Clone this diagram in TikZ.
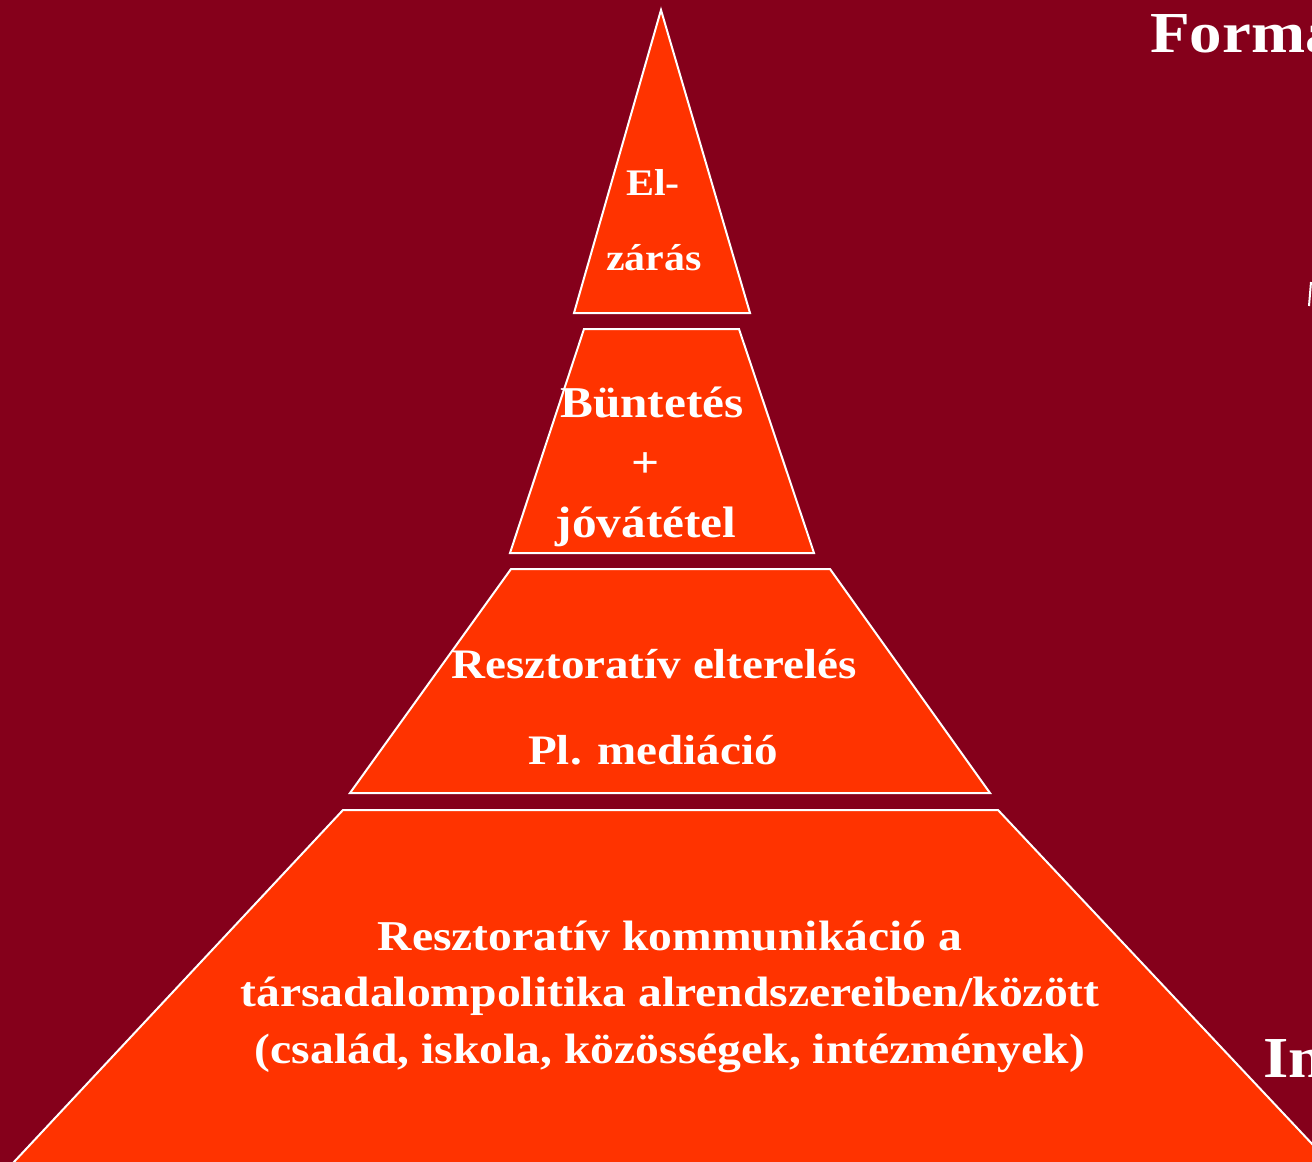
\documentclass[tikz,border=0pt]{standalone}
\usepackage{fontspec}
\setmainfont{Liberation Serif}[FakeStretch=1.12]
\definecolor{bgred}{HTML}{85001B}
\definecolor{tier}{HTML}{FF3300}
\tikzset{
  tierbox/.style={fill=tier, draw=white, line width=2pt, line join=miter},
  lbl/.style={text=white, font=\bfseries, anchor=base, inner sep=0pt},
}
\begin{document}
\begin{tikzpicture}[x=1pt,y=-1pt]
\useasboundingbox (0,0) rectangle (1312,1162);
\fill[bgred] (0,0) rectangle (1312,1162);
\begin{scope}
\clip (0,0) rectangle (1312,1162);
\draw[tierbox] (661,10) -- (750,313) -- (574,313) -- cycle;
\draw[tierbox] (584,329) -- (739,329) -- (814,553) -- (510,553) -- cycle;
\draw[tierbox] (511,569) -- (830,569) -- (990,793) -- (350,793) -- cycle;
\draw[tierbox] (343,810) -- (998,810) -- (1330,1163) -- (13,1163) -- cycle;
\draw[white, line width=2pt] (1311,282) -- (1309,306);
\node[lbl, font=\bfseries\fontsize{58}{70}\selectfont, anchor=base west] (forma) at (1150,52) {Forma};
\node[lbl, font=\bfseries\fontsize{58}{70}\selectfont, anchor=base west] (in) at (1263,1077) {In};
\end{scope}
\node[lbl, font=\bfseries\fontsize{37.5}{44}\selectfont] (el) at (653,195) {El-};
\node[lbl, font=\bfseries\fontsize{37.5}{44}\selectfont] (zaras) at (654,270) {zárás};
\node[lbl, font=\bfseries\fontsize{44}{52}\selectfont] (buntetes) at (652,417) {Büntetés};
\node[lbl, font=\bfseries\fontsize{44}{52}\selectfont] (plus) at (646,477) {+};
\node[lbl, font=\bfseries\fontsize{44}{52}\selectfont] (jovatetel) at (646,537) {jóvátétel};
\node[lbl, font=\bfseries\fontsize{42}{50}\selectfont] (elter) at (654,678) {Resztoratív elterelés};
\node[lbl, font=\bfseries\fontsize{42}{50}\selectfont] (medi) at (653,764) {Pl. mediáció};
\node[lbl, font=\bfseries\fontsize{42.5}{50}\selectfont] (komm1) at (670,950) {Resztoratív kommunikáció a};
\node[lbl, font=\bfseries\fontsize{42.5}{50}\selectfont] (komm2) at (670,1006) {társadalompolitika alrendszereiben/között};
\node[lbl, font=\bfseries\fontsize{42.5}{50}\selectfont] (komm3) at (670,1063) {(család, iskola, közösségek, intézmények)};
\end{tikzpicture}
\end{document}
